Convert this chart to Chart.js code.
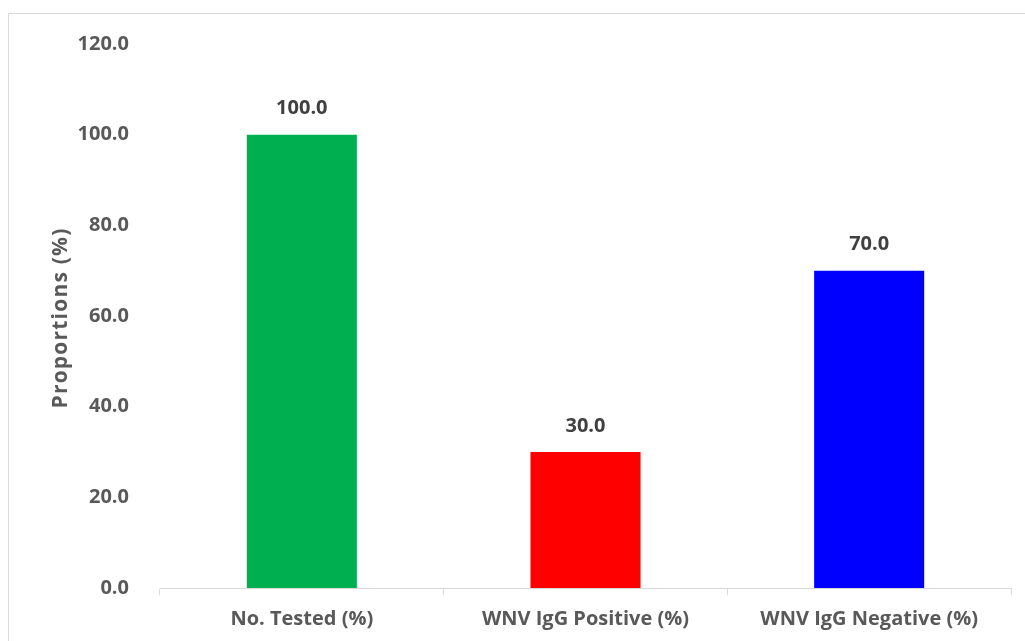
<!DOCTYPE html>
<html>
<head>
<meta charset="utf-8">
<script src="https://cdn.jsdelivr.net/npm/chart.js@4/dist/chart.umd.min.js"></script>
<style>
  html, body { margin: 0; padding: 0; background: #fff; overflow: hidden; }
  #wrap { position: relative; width: 1025px; height: 641px; }
  #frame { position: absolute; left: 8px; top: 13px; width: 1040px; height: 660px; border: 1px solid #d9d9d9; box-sizing: border-box; }
  canvas { position: absolute; left: 0; top: 0; }
</style>
</head>
<body>
<div id="wrap">
  <div id="frame"></div>
  <canvas id="c" width="1025" height="641"></canvas>
</div>
<script>
const categories = ['No. Tested (%)', 'WNV IgG Positive (%)', 'WNV IgG Negative (%)'];
const proportions = [100.0, 30.0, 70.0];
const barColors = ['#00B050', '#FF0000', '#0000FF'];
const yTicks = [0, 20, 40, 60, 80, 100, 120];
const yTitle = 'Proportions (%)';

const FONT = '"Open Sans", Lato, "DejaVu Sans", sans-serif';

// Writes each bar's value above its top edge, and the rotated y-axis title
const valueLabels = {
  id: 'valueLabels',
  afterDraw(chart) {
    const ctx = chart.ctx;
    const meta = chart.getDatasetMeta(0);
    ctx.save();
    ctx.font = 'bold 20px ' + FONT;
    ctx.fillStyle = '#404040';
    ctx.textAlign = 'center';
    ctx.textBaseline = 'middle';
    meta.data.forEach((bar, i) => {
      ctx.fillText(proportions[i].toFixed(1), bar.x, bar.y - 26);
    });
    ctx.restore();

    const area = chart.chartArea;
    ctx.save();
    ctx.font = 'bold 21px ' + FONT;
    ctx.letterSpacing = '1.2px';
    ctx.fillStyle = '#595959';
    ctx.textAlign = 'center';
    ctx.textBaseline = 'middle';
    ctx.translate(61, (area.top + area.bottom) / 2 + 2);
    ctx.rotate(-Math.PI / 2);
    ctx.fillText(yTitle, 0, 0);
    ctx.restore();
  }
};

new Chart(document.getElementById('c'), {
  type: 'bar',
  data: {
    labels: categories,
    datasets: [{
      data: proportions,
      backgroundColor: barColors,
      borderWidth: 0,
      categoryPercentage: 1,
      barPercentage: 0.388
    }]
  },
  options: {
    responsive: false,
    animation: false,
    layout: { padding: { left: 9, right: 14, top: 44, bottom: 0 } },
    plugins: { legend: { display: false }, tooltip: { enabled: false } },
    scales: {
      x: {
        grid: { display: true, drawOnChartArea: false, drawTicks: true, tickLength: 7, color: '#d9d9d9', offset: true },
        border: { display: true, color: '#d9d9d9', width: 1 },
        ticks: { color: '#595959', font: { family: FONT, size: 20, weight: 'bold' }, padding: 12, maxRotation: 0 },
        afterFit(axis) { axis.height = 53; }
      },
      y: {
        min: 0,
        max: 120,
        afterBuildTicks(axis) { axis.ticks = yTicks.map(v => ({ value: v })); },
        grid: { display: false },
        border: { display: false },
        ticks: {
          color: '#595959',
          font: { family: FONT, size: 20, weight: 'bold' },
          padding: 23,
          callback: v => Number(v).toFixed(1)
        },
        afterFit(axis) { axis.width = 151; }
      }
    }
  },
  plugins: [valueLabels]
});
</script>
</body>
</html>
